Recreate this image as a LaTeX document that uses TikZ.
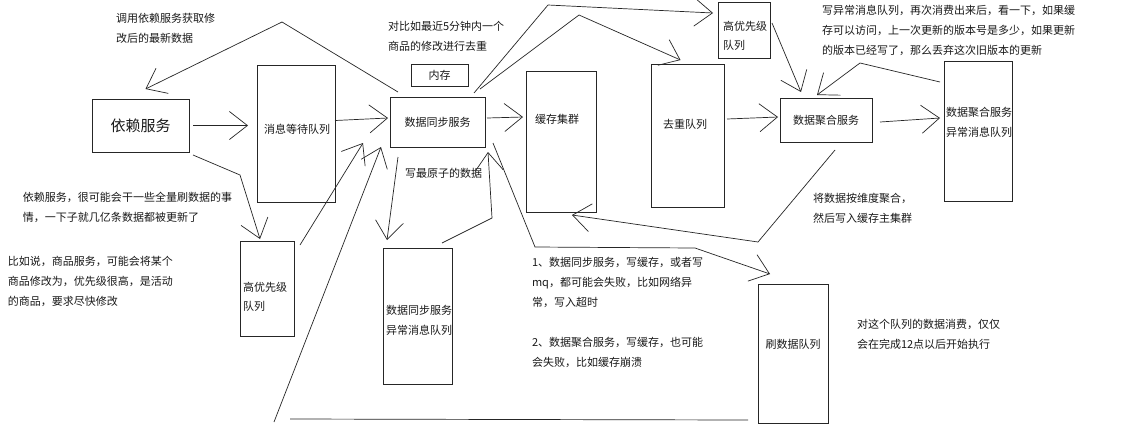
\documentclass[tikz,border=0pt]{standalone}
\usepackage{fontspec}
\setmainfont{Noto Sans CJK SC}
\usetikzlibrary{arrows.meta,calc}
\begin{document}
\begin{tikzpicture}[x=1pt,y=-1pt,
  box/.style={draw=black!85, line width=0.8pt, inner sep=0pt, outer sep=0pt,
    font=\fontsize{11}{20}\selectfont, align=center, text=black!90},
  note/.style={inner sep=0pt, outer sep=0pt, anchor=north west, align=left,
    font=\fontsize{11}{20}\selectfont, text=black!90},
  tag/.style={inner sep=0pt, outer sep=0pt, align=center,
    font=\fontsize{11}{20}\selectfont, text=black!90},
  link/.style={draw=black!85, line width=0.7pt},
  arr/.style={link, -{Straight Barb[length=18pt,width=28pt]}},
]
\useasboundingbox (0,0) rectangle (1148,440);
\fill[white] (0,0) rectangle (1148,440);

% ---- boxes
\node[box, minimum width=97pt, minimum height=53pt, font=\fontsize{15}{18}\selectfont] (dep) at (140.5,125.5) {依赖服务};
\node[box, minimum width=78pt, minimum height=137pt] (mwq) at (296,133.5) {};
\node[tag] (mwq-t) at (297,129) {消息等待队列};
\node[box, minimum width=95pt, minimum height=50pt] (dsync) at (437.5,122) {数据同步服务};
\node[box, minimum width=57pt, minimum height=22pt] (mem) at (439.5,75) {内存};
\node[box, minimum width=70pt, minimum height=141pt] (cache) at (561,141.5) {};
\node[tag] (cache-t) at (557,119) {缓存集群};
\node[box, minimum width=73pt, minimum height=143pt] (dedup) at (687.5,135.5) {};
\node[tag] (dedup-t) at (685,124) {去重队列};
\node[box, minimum width=52pt, minimum height=56pt] (hpq1) at (744,30) {};
\node[note, font=\fontsize{11}{19}\selectfont] (hpq1-t) at (723,21) {高优先级\\队列};
\node[box, minimum width=92pt, minimum height=44pt] (agg) at (826,120) {数据聚合服务};
\node[box, minimum width=68pt, minimum height=140pt] (aggq) at (978,131) {};
\node[tag] (aggq-t) at (979,122) {数据聚合服务\\异常消息队列};
\node[box, minimum width=54pt, minimum height=95pt] (hpq2) at (267,288.5) {};
\node[note, font=\fontsize{11}{19}\selectfont] (hpq2-t) at (243,282) {高优先级\\队列};
\node[box, minimum width=69pt, minimum height=136pt] (dsq) at (417.5,316) {};
\node[note] (dsq-t) at (386,305) {数据同步服务\\异常消息队列};
\node[box, minimum width=70pt, minimum height=139pt] (flush) at (793,353.5) {};
\node[tag] (flush-t) at (793,344) {刷数据队列};

% ---- notes
\node[note] (n1) at (116,13) {调用依赖服务获取修\\改后的最新数据};
\node[note] (n2) at (388,21) {对比如最近5分钟内一个\\商品的修改进行去重};
\node[note] (n3) at (405,168) {写最原子的数据};
\node[note] (n4) at (822,5) {写异常消息队列，再次消费出来后，看一下，如果缓\\存可以访问，上一次更新的版本号是多少，如果更新\\的版本已经写了，那么丢弃这次旧版本的更新};
\node[note] (n5) at (813,193) {将数据按维度聚合，\\然后写入缓存主集群};
\node[note] (n6) at (23,192) {依赖服务，很可能会干一些全量刷数据的事\\情，一下子就几亿条数据都被更新了};
\node[note] (n7) at (8,256) {比如说，商品服务，可能会将某个\\商品修改为，优先级很高，是活动\\的商品，要求尽快修改};
\node[note] (n8) at (532,257) {1、数据同步服务，写缓存，或者写\\mq，都可能会失败，比如网络异\\常，写入超时\\[20pt]2、数据聚合服务，写缓存，也可能\\会失败，比如缓存崩溃};
\node[note] (n9) at (857,319) {对这个队列的数据消费，仅仅\\会在完成12点以后开始执行};

% ---- bend points
\coordinate (p3) at (282,22);
\coordinate (p4) at (240,175);
\coordinate (q1) at (290,419);
\coordinate (q2) at (274,422);
\coordinate (p8) at (492,218);
\coordinate (p9a) at (535,247);
\coordinate (p9b) at (695,248);
\coordinate (p10) at (758,242);
\coordinate (p12) at (579,15);
\coordinate (p13) at (548,5);
\coordinate (p16) at (860,63);

% ---- connectors
\draw[arr] ($(dep.east)+(4,0)$) -- ($(mwq.west |- dep.east)+(-9,0)$);
\draw[arr] ($(mwq.east)+(0,-13)$) -- ($(dsync.west)+(-2,-4)$);
\draw[arr] ($(dsync.north west)+(8,-5)$) -- (p3) -- ($(dep.north)+(5,-10)$);
\draw[arr] ($(dep.south east)+(4,3)$) -- (p4) -- ($(hpq2.north)+(-7,-2)$);
\draw[arr] ($(hpq2.north east)+(6,4)$) -- ($(dsync.south west)+(-27,-4)$);
\draw[link] ($(flush.south west)+(-10,-3)$) -- (q1);
\draw[arr] (q2) -- ($(dsync.south west)+(-9,0)$);
\draw[arr] ($(dsync.south west)+(8,10)$) -- ($(dsq.north west)+(4,-8)$);
\draw[arr] ($(dsq.north east)+(-10,-5)$) -- (p8) -- ($(dsync.south east)+(3,5)$);
\draw[arr] ($(dsync.south east)+(8,-4)$) -- (p9a) -- (p9b) -- ($(flush.north west)+(12,-10)$);
\draw[arr] ($(agg.south)+(9,8)$) -- (p10) -- ($(cache.south)+(11,3)$);
\draw[arr] ($(dsync.east)+(2,-4)$) -- ($(cache.west |- dsync.east)+(-3,-5)$);
\draw[arr] ($(dsync.north east)+(-5,-8)$) -- (p12) -- ($(dedup.north)+(-7,-4)$);
\draw[arr] ($(dsync.north east)+(-11,-4)$) -- (p13) -- ($(hpq1.north west)+(-5,11)$);
\draw[arr] ($(dedup.east |- agg.west)+(3,-1)$) -- ($(agg.west)+(-2,-3)$);
\draw[arr] ($(hpq1.east)+(2,-7)$) -- ($(agg.north west)+(21,-6)$);
\draw[arr] ($(aggq.north west)+(-4,21)$) -- (p16) -- ($(agg.north)+(-9,-3)$);
\draw[arr] ($(agg.east)+(8,2)$) -- ($(aggq.west)+(-4,-13)$);
\end{tikzpicture}
\end{document}
